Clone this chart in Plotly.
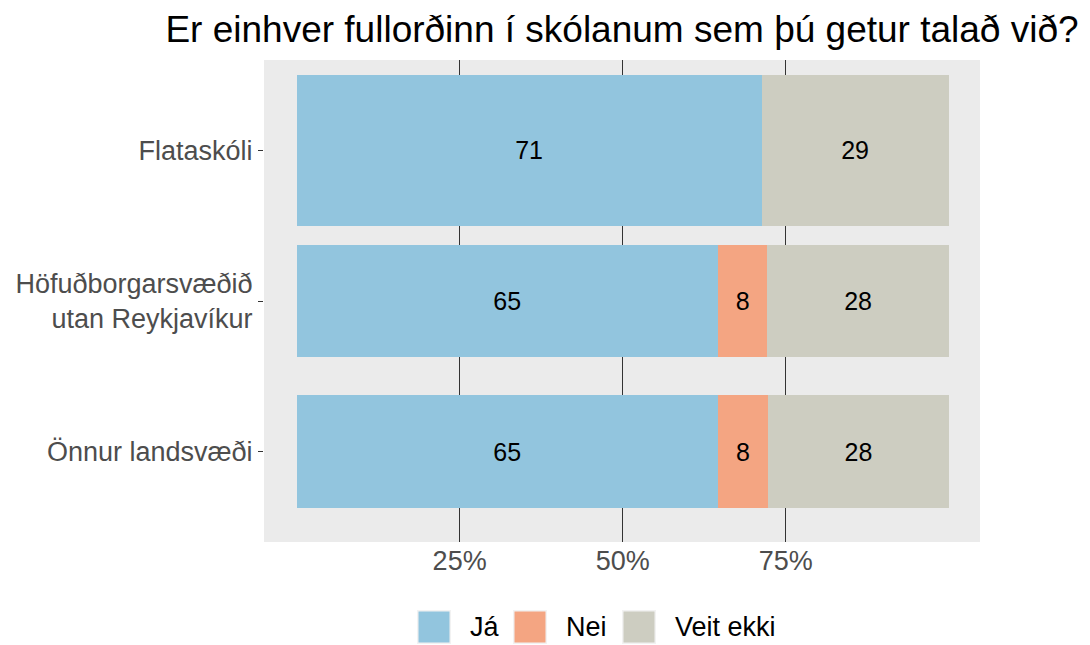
import plotly.graph_objects as go

# ---- data ----
categories = ["Önnur landsvæði", "Höfuðborgarsvæðið<br>utan Reykjavíkur", "Flataskóli"]
series_names = ["Já", "Nei", "Veit ekki"]
ja_values = [64.6, 64.6, 71.3]
nei_values = [7.7, 7.6, 0.0]
veit_values = [27.7, 27.8, 28.7]
bar_widths = [0.75, 0.75, 1.0]
x_tick_values = [25, 50, 75]
x_tick_labels = ["25%", "50%", "75%"]
title_text = "Er einhver fullorðinn í skólanum sem þú getur talað við?"

colors = ["#92C5DE", "#F4A582", "#CDCDC1"]
FONT = "Liberation Sans, Arial, sans-serif"

W, H = 1090, 645
PL, PR, PT, PB = 264, 980, 60, 542  # panel pixel box

fig = go.Figure()
for name, vals, col in zip(series_names, [ja_values, nei_values, veit_values], colors):
    fig.add_trace(go.Bar(
        y=categories, x=vals, name=name, orientation="h",
        width=bar_widths,
        marker=dict(color=col, line=dict(width=0)),
        text=[f"{v:.0f}" if v > 0 else "" for v in vals],
        textposition="inside", insidetextanchor="middle", textangle=0,
        constraintext="none",
        textfont=dict(family=FONT, size=25, color="black"),
        showlegend=False, hoverinfo="x+y+name",
    ))

fig.update_layout(
    width=W, height=H,
    barmode="stack",
    paper_bgcolor="white", plot_bgcolor="#EBEBEB",
    margin=dict(l=PL, r=W - PR, t=PT, b=H - PB, autoexpand=False),
    font=dict(family=FONT),
    title=dict(text=title_text, font=dict(family=FONT, size=37, color="black"),
               x=0.5, xref="paper", xanchor="center",
               y=1 - 29 / H, yref="container", yanchor="middle"),
    xaxis=dict(range=[-5, 104.8], tickvals=x_tick_values, ticktext=x_tick_labels,
               showgrid=True, gridcolor="#333333", gridwidth=1,
               zeroline=False, showline=False, ticks="",
               tickfont=dict(family=FONT, size=27, color="#4D4D4D"), fixedrange=True),
    yaxis=dict(categoryorder="array", categoryarray=categories, range=[-0.6, 2.6],
               showgrid=False, zeroline=False, showline=False,
               ticks="outside", ticklen=5, tickcolor="#333333", tickwidth=1,
               tickfont=dict(family=FONT, size=27, color="#4D4D4D"), fixedrange=True),
)

# ---- manual legend (ggplot-like large keys) ----
def px_x(p):
    return (p - PL) / (PR - PL)

def px_y(p):
    return (PB - p) / (PB - PT)

key_lefts = [417, 513, 622]
key_size = 34
key_top = 610
for name, col, kx in zip(series_names, colors, key_lefts):
    fig.add_shape(type="rect", xref="paper", yref="paper",
                  x0=px_x(kx), x1=px_x(kx + key_size),
                  y0=px_y(key_top + key_size), y1=px_y(key_top),
                  fillcolor="#F2F2F2", line=dict(width=0), layer="above")
    fig.add_shape(type="rect", xref="paper", yref="paper",
                  x0=px_x(kx + 1.5), x1=px_x(kx + key_size - 1.5),
                  y0=px_y(key_top + key_size - 1.5), y1=px_y(key_top + 1.5),
                  fillcolor=col, line=dict(width=0), layer="above")
    fig.add_annotation(xref="paper", yref="paper",
                       x=px_x(kx + key_size + 17), y=px_y(key_top + key_size / 2),
                       text=name, showarrow=False, xanchor="left", yanchor="middle",
                       font=dict(family=FONT, size=27, color="black"))

fig.write_html("out.html", config={"displayModeBar": False},
               post_script="document.body.style.margin='0';document.body.style.padding='0';")
